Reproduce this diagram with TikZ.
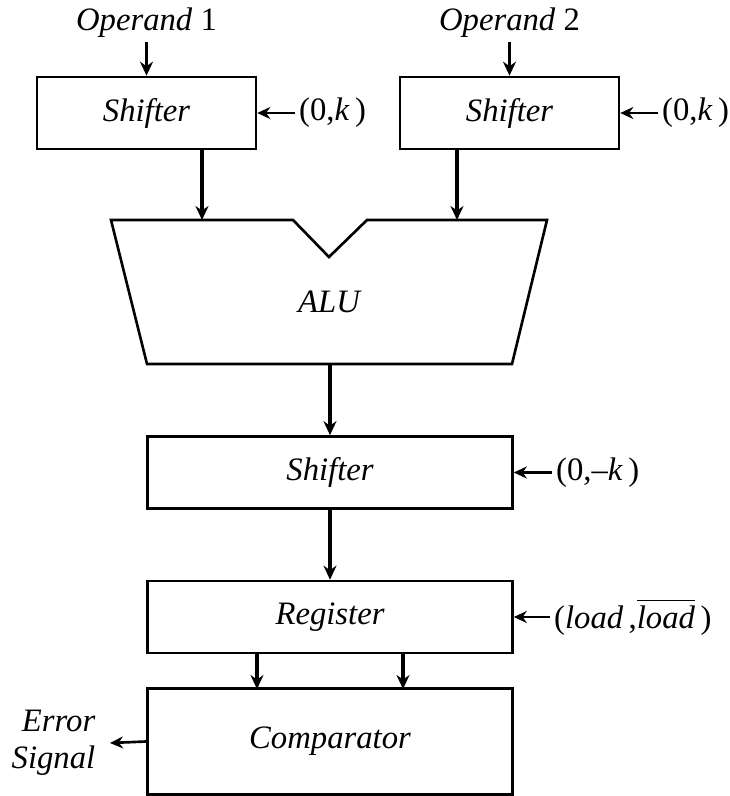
\documentclass[tikz,border=0pt]{standalone}
\usepackage{fontspec}
\setmainfont{Liberation Serif}
\usetikzlibrary{arrows.meta}

\begin{document}
\begin{tikzpicture}[
    box/.style={draw, line width=0.75pt, inner sep=0pt, minimum height=0.72cm},
    lbl/.style={font=\fontsize{9.3}{10.5}\selectfont\itshape, inner sep=1pt},
    num/.style={font=\fontsize{9.3}{10.5}\selectfont, inner sep=1pt, anchor=west},
    sig/.style={line width=1.1pt, -{Stealth[length=1.4mm, width=1.3mm]}},
    side/.style={line width=0.75pt, -{Stealth[length=1.3mm, width=1.2mm]}}
]
    \useasboundingbox (0, 0) rectangle (7.29, 7.96);

    % Input shifters
    \node[box, minimum width=2.19cm, lbl, inner sep=0pt] (sh1) at (1.465, 6.83) {Shifter};
    \node[box, minimum width=2.19cm, lbl, inner sep=0pt] (sh2) at (5.095, 6.83) {Shifter};
    \node[lbl] (op1) at (1.465, 7.73) {Operand \upshape 1};
    \node[lbl] (op2) at (5.095, 7.73) {Operand \upshape 2};
    \draw[sig] (op1) -- (sh1);
    \draw[sig] (op2) -- (sh2);
    \node[num] (k1) at (2.95, 6.83) {(0,\textit{k}\,)};
    \node[num] (k2) at (6.58, 6.83) {(0,\textit{k}\,)};
    \draw[side] (k1) -- (sh1);
    \draw[side] (k2) -- (sh2);

    % ALU
    \draw[line width=0.75pt] (1.11, 5.76) -- (2.93, 5.76) -- (3.29, 5.39) -- (3.67, 5.76)
        -- (5.47, 5.76) -- (5.12, 4.32) -- (1.47, 4.32) -- cycle;
    \node[lbl] (alu) at (3.29, 4.94) {ALU};
    \coordinate (in1) at (2.02, 5.76);
    \coordinate (in2) at (4.57, 5.76);
    \coordinate (aluout) at (3.30, 4.32);
    \draw[sig] (in1 |- sh1.south) -- (in1);
    \draw[sig] (in2 |- sh2.south) -- (in2);

    % Output shifter
    \node[box, minimum width=3.65cm, lbl, inner sep=0pt] (sh3) at (3.30, 3.235) {Shifter};
    \draw[sig] (aluout) -- (sh3);
    \node[num] (k3) at (5.52, 3.235) {(0,--\textit{k}\,)};
    \draw[side] (k3) -- (sh3);

    % Register
    \node[box, minimum width=3.65cm, lbl, inner sep=0pt] (reg) at (3.30, 1.79) {Register};
    \draw[sig] (sh3) -- (reg);
    \node[num] (ld) at (5.50, 1.79)
        {(\textit{load}\,,$\overline{\mbox{\textit{load}}}$\,)};
    \draw[side] (ld) -- (reg);

    % Comparator
    \node[box, minimum width=3.65cm, minimum height=1.06cm, lbl, inner sep=0pt] (comp) at (3.30, 0.545) {Comparator};
    \coordinate (c1) at (2.57, 1.07);
    \coordinate (c2) at (4.03, 1.07);
    \draw[sig] (c1 |- reg.south) -- (c1);
    \draw[sig] (c2 |- reg.south) -- (c2);
    \node[lbl, anchor=east, align=right, inner sep=4pt] (err) at (1.10, 0.53) {Error\\Signal};
    \draw[side] (comp.west) -- (err.east);
\end{tikzpicture}
\end{document}
